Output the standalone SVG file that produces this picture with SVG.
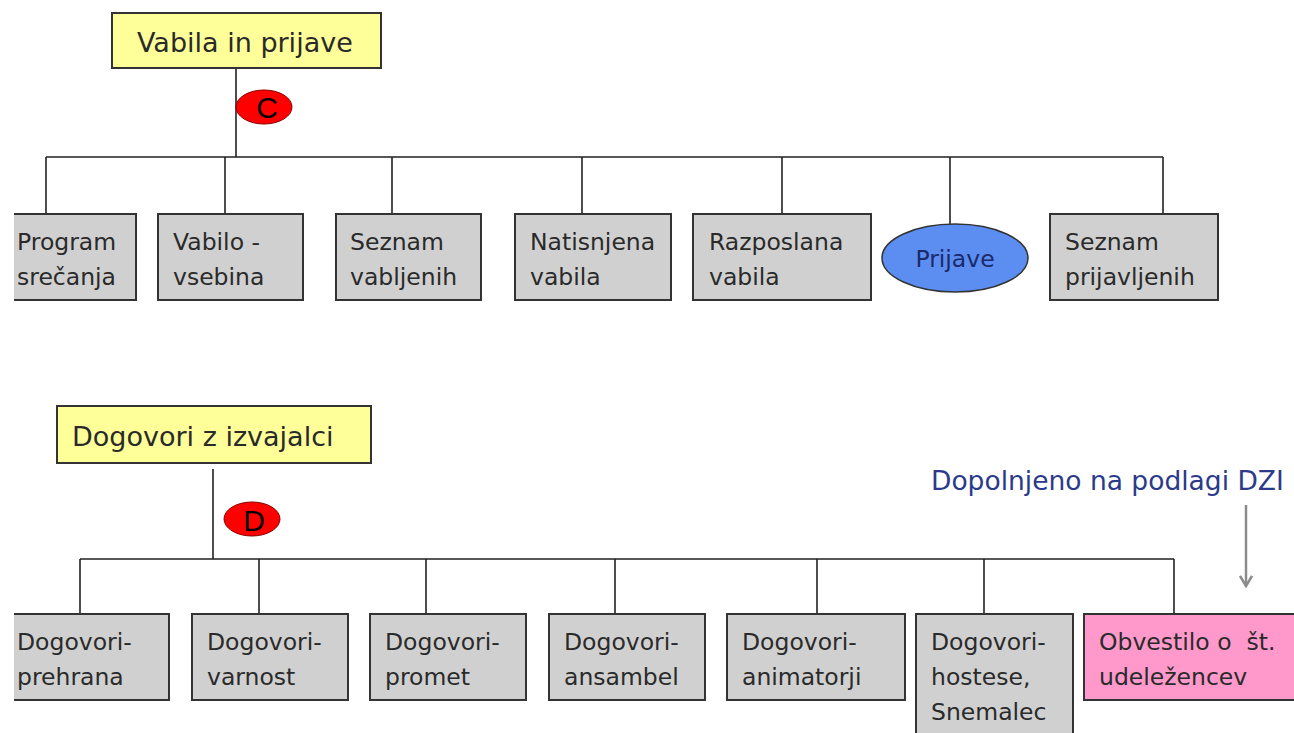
<svg xmlns="http://www.w3.org/2000/svg" width="1294" height="733" viewBox="0 0 1294 733">
  <style>
    .t { font-family: "DejaVu Sans", "Liberation Sans", sans-serif; font-size: 23.5px; fill: #2a2a2a; }
    .h { font-size: 27px; }
    .head { fill: #ffff99; stroke: #333; stroke-width: 2; }
    .box { fill: #d0d0d0; stroke: #333; stroke-width: 2; }
    .pink { fill: #ff99cc; stroke: #333; stroke-width: 2; }
    .edge { stroke: #222; stroke-width: 1.6; fill: none; }
    .mark { fill: #ff0000; stroke: #8a0000; stroke-width: 1; }
    .ml { font-family: "Liberation Sans", sans-serif; font-size: 30px; fill: #000; }
  </style>
  <defs>
    <marker id="grayArrow" markerWidth="14" markerHeight="14" refX="11" refY="7" orient="auto" markerUnits="userSpaceOnUse">
      <path d="M1,1 L11,7 L1,13" fill="none" stroke="#8c8c8c" stroke-width="2.5"/>
    </marker>
  </defs>

  <!-- connectors -->
  <g id="connectors">
    <path class="edge" d="M236,68 V157 M46,157 H1163 M46,157 V214 M225,157 V214 M392,157 V214 M582,157 V214 M782,157 V214 M950,157 V226 M1163,157 V214"/>
    <path class="edge" d="M213,469 V559 M80,559 H1174 M80,559 V614 M259,559 V614 M426,559 V614 M615,559 V614 M817,559 V614 M984,559 V614 M1174,559 V614"/>
    <line x1="1246" y1="505" x2="1246" y2="586" stroke="#8c8c8c" stroke-width="2.5" marker-end="url(#grayArrow)"/>
  </g>

  <!-- section C -->
  <g id="vabila">
    <rect class="head" x="112" y="13" width="269" height="55"/>
    <text class="t h" x="137" y="52">Vabila in prijave</text>
  </g>
  <g id="markC">
    <ellipse class="mark" cx="264" cy="107" rx="28" ry="17"/>
    <text class="ml" x="267" y="118" text-anchor="middle">C</text>
  </g>
  <g id="program">
    <rect x="14" y="214" width="122" height="86" fill="#d0d0d0"/>
    <path d="M14,214 H136 V300 H14" fill="none" stroke="#333" stroke-width="2"/>
    <text class="t" x="17" y="250">Program</text>
    <text class="t" x="17" y="285">srečanja</text>
  </g>
  <g id="vabilo">
    <rect class="box" x="158" y="214" width="145" height="86"/>
    <text class="t" x="173" y="250">Vabilo -</text>
    <text class="t" x="173" y="285">vsebina</text>
  </g>
  <g id="seznam-vabljenih">
    <rect class="box" x="336" y="214" width="145" height="86"/>
    <text class="t" x="350" y="250">Seznam</text>
    <text class="t" x="350" y="285">vabljenih</text>
  </g>
  <g id="natisnjena">
    <rect class="box" x="515" y="214" width="156" height="86"/>
    <text class="t" x="530" y="250">Natisnjena</text>
    <text class="t" x="530" y="285">vabila</text>
  </g>
  <g id="razposlana">
    <rect class="box" x="693" y="214" width="178" height="86"/>
    <text class="t" x="709" y="250">Razposlana</text>
    <text class="t" x="709" y="285">vabila</text>
  </g>
  <g id="prijave">
    <ellipse cx="955" cy="258" rx="73" ry="34" fill="#5b8ef0" stroke="#333" stroke-width="1.5"/>
    <text class="t" x="955" y="267" text-anchor="middle" style="fill:#1a2a6a">Prijave</text>
  </g>
  <g id="seznam-prijavljenih">
    <rect class="box" x="1050" y="214" width="168" height="86"/>
    <text class="t" x="1065" y="250">Seznam</text>
    <text class="t" x="1065" y="285">prijavljenih</text>
  </g>

  <!-- section D -->
  <g id="dogovori">
    <rect class="head" x="57" y="406" width="314" height="57"/>
    <text class="t h" x="72" y="446">Dogovori z izvajalci</text>
  </g>
  <g id="markD">
    <ellipse class="mark" cx="252" cy="519" rx="28" ry="17"/>
    <text class="ml" x="254" y="531" text-anchor="middle">D</text>
  </g>
  <g id="dzi-note">
    <text class="t" x="931" y="490" style="fill:#2b3a8a;font-size:26.5px">Dopolnjeno na podlagi DZI</text>
  </g>
  <g id="prehrana">
    <rect x="14" y="614" width="155" height="86" fill="#d0d0d0"/>
    <path d="M14,614 H169 V700 H14" fill="none" stroke="#333" stroke-width="2"/>
    <text class="t" x="17" y="650">Dogovori-</text>
    <text class="t" x="17" y="685">prehrana</text>
  </g>
  <g id="varnost">
    <rect class="box" x="192" y="614" width="156" height="86"/>
    <text class="t" x="207" y="650">Dogovori-</text>
    <text class="t" x="207" y="685">varnost</text>
  </g>
  <g id="promet">
    <rect class="box" x="370" y="614" width="156" height="86"/>
    <text class="t" x="385" y="650">Dogovori-</text>
    <text class="t" x="385" y="685">promet</text>
  </g>
  <g id="ansambel">
    <rect class="box" x="549" y="614" width="156" height="86"/>
    <text class="t" x="564" y="650">Dogovori-</text>
    <text class="t" x="564" y="685">ansambel</text>
  </g>
  <g id="animatorji">
    <rect class="box" x="727" y="614" width="178" height="86"/>
    <text class="t" x="742" y="650">Dogovori-</text>
    <text class="t" x="742" y="685">animatorji</text>
  </g>
  <g id="hostese">
    <rect class="box" x="916" y="614" width="157" height="130"/>
    <text class="t" x="931" y="650">Dogovori-</text>
    <text class="t" x="931" y="685">hostese,</text>
    <text class="t" x="931" y="720">Snemalec</text>
  </g>
  <g id="obvestilo">
    <rect class="pink" x="1084" y="614" width="220" height="86"/>
    <text class="t" x="1099" y="650" style="white-space:pre">Obvestilo o  št.</text>
    <text class="t" x="1099" y="685">udeležencev</text>
  </g>
</svg>
